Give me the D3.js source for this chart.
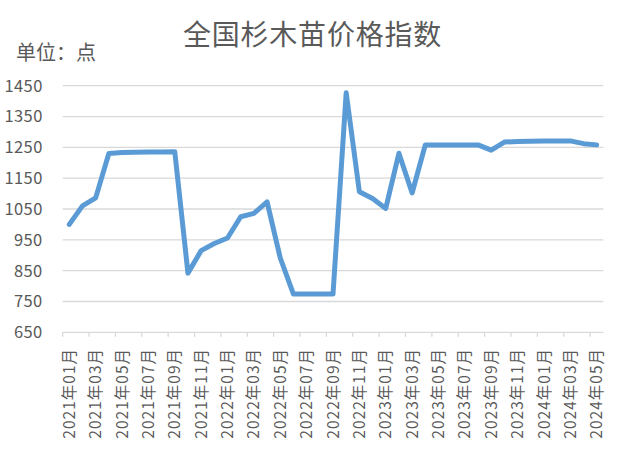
<!DOCTYPE html>
<html lang="zh">
<head>
<meta charset="UTF-8">
<title>全国杉木苗价格指数</title>
<script src="https://cdn.jsdelivr.net/npm/d3@7"></script>
<style>
  body { margin: 0; background: #fff; }
  svg text { font-family: "Noto Sans CJK SC", "Noto Sans", sans-serif; fill: #595959; }
</style>
</head>
<body>
<script>
// chart data
const months = [
  "2021年01月","2021年02月","2021年03月","2021年04月","2021年05月","2021年06月",
  "2021年07月","2021年08月","2021年09月","2021年10月","2021年11月","2021年12月",
  "2022年01月","2022年02月","2022年03月","2022年04月","2022年05月","2022年06月",
  "2022年07月","2022年08月","2022年09月","2022年10月","2022年11月","2022年12月",
  "2023年01月","2023年02月","2023年03月","2023年04月","2023年05月","2023年06月",
  "2023年07月","2023年08月","2023年09月","2023年10月","2023年11月","2023年12月",
  "2024年01月","2024年02月","2024年03月","2024年04月","2024年05月"
];
const priceIndex = [
  1000, 1060, 1086, 1230, 1233, 1234,
  1235, 1235, 1236, 842, 915, 938,
  956, 1025, 1036, 1073, 891, 774,
  774, 774, 774, 1427, 1106, 1084,
  1052, 1231, 1102, 1258, 1258, 1258,
  1258, 1258, 1241, 1267, 1269, 1270,
  1271, 1271, 1271, 1262, 1258
];
const yTicks = [650, 750, 850, 950, 1050, 1150, 1250, 1350, 1450];
const labelMonths = months.filter((m, i) => i % 2 === 0);

const width = 624, height = 452;
const plotLeft = 62.7, plotRight = 603.3, plotTop = 85.7, plotBottom = 332.3;

const svg = d3.select("body").append("svg")
  .attr("width", width)
  .attr("height", height);

const x = d3.scaleBand().domain(months).range([plotLeft, plotRight]).padding(0);
const y = d3.scaleLinear().domain([650, 1450]).range([plotBottom, plotTop]);
const bw = x.bandwidth();

// title + unit
svg.append("text")
  .attr("x", width / 2 + 0.5)
  .attr("y", 45)
  .attr("text-anchor", "middle")
  .style("font-size", "28px")
  .style("letter-spacing", "0.8px")
  .text("全国杉木苗价格指数");

svg.append("text")
  .attr("x", 16)
  .attr("y", 60)
  .style("font-size", "20px")
  .text("单位：点");

// gridlines
svg.append("g").selectAll("line")
  .data(yTicks)
  .enter().append("line")
  .attr("x1", plotLeft).attr("x2", plotRight)
  .attr("y1", d => y(d)).attr("y2", d => y(d))
  .attr("stroke", "#d9d9d9")
  .attr("stroke-width", 1.3);

// y labels
svg.append("g").selectAll("text")
  .data(yTicks)
  .enter().append("text")
  .attr("x", 42.7)
  .attr("y", d => y(d))
  .attr("dy", "0.36em")
  .attr("text-anchor", "end")
  .style("font-size", "16.5px")
  .style("letter-spacing", "0.4px")
  .text(d => d);

// x tick marks, every other month at the band edge
svg.append("g").selectAll("line")
  .data(labelMonths)
  .enter().append("line")
  .attr("x1", d => x(d)).attr("x2", d => x(d))
  .attr("y1", plotBottom).attr("y2", plotBottom + 4.5)
  .attr("stroke", "#d9d9d9")
  .attr("stroke-width", 1.3);

// x labels, rotated
svg.append("g").selectAll("text")
  .data(labelMonths)
  .enter().append("text")
  .attr("transform", d => "translate(" + (x(d) + bw / 2) + ",348) rotate(-90)")
  .attr("dy", "0.36em")
  .attr("text-anchor", "end")
  .style("font-size", "15.5px")
  .style("letter-spacing", "1px")
  .text(d => d);

// the line
const line = d3.line()
  .x((d, i) => x(months[i]) + bw / 2)
  .y(d => y(d));

svg.append("path")
  .datum(priceIndex)
  .attr("d", line)
  .attr("fill", "none")
  .attr("stroke", "#5b9bd5")
  .attr("stroke-width", 5)
  .attr("stroke-linejoin", "round")
  .attr("stroke-linecap", "round");
</script>
</body>
</html>
